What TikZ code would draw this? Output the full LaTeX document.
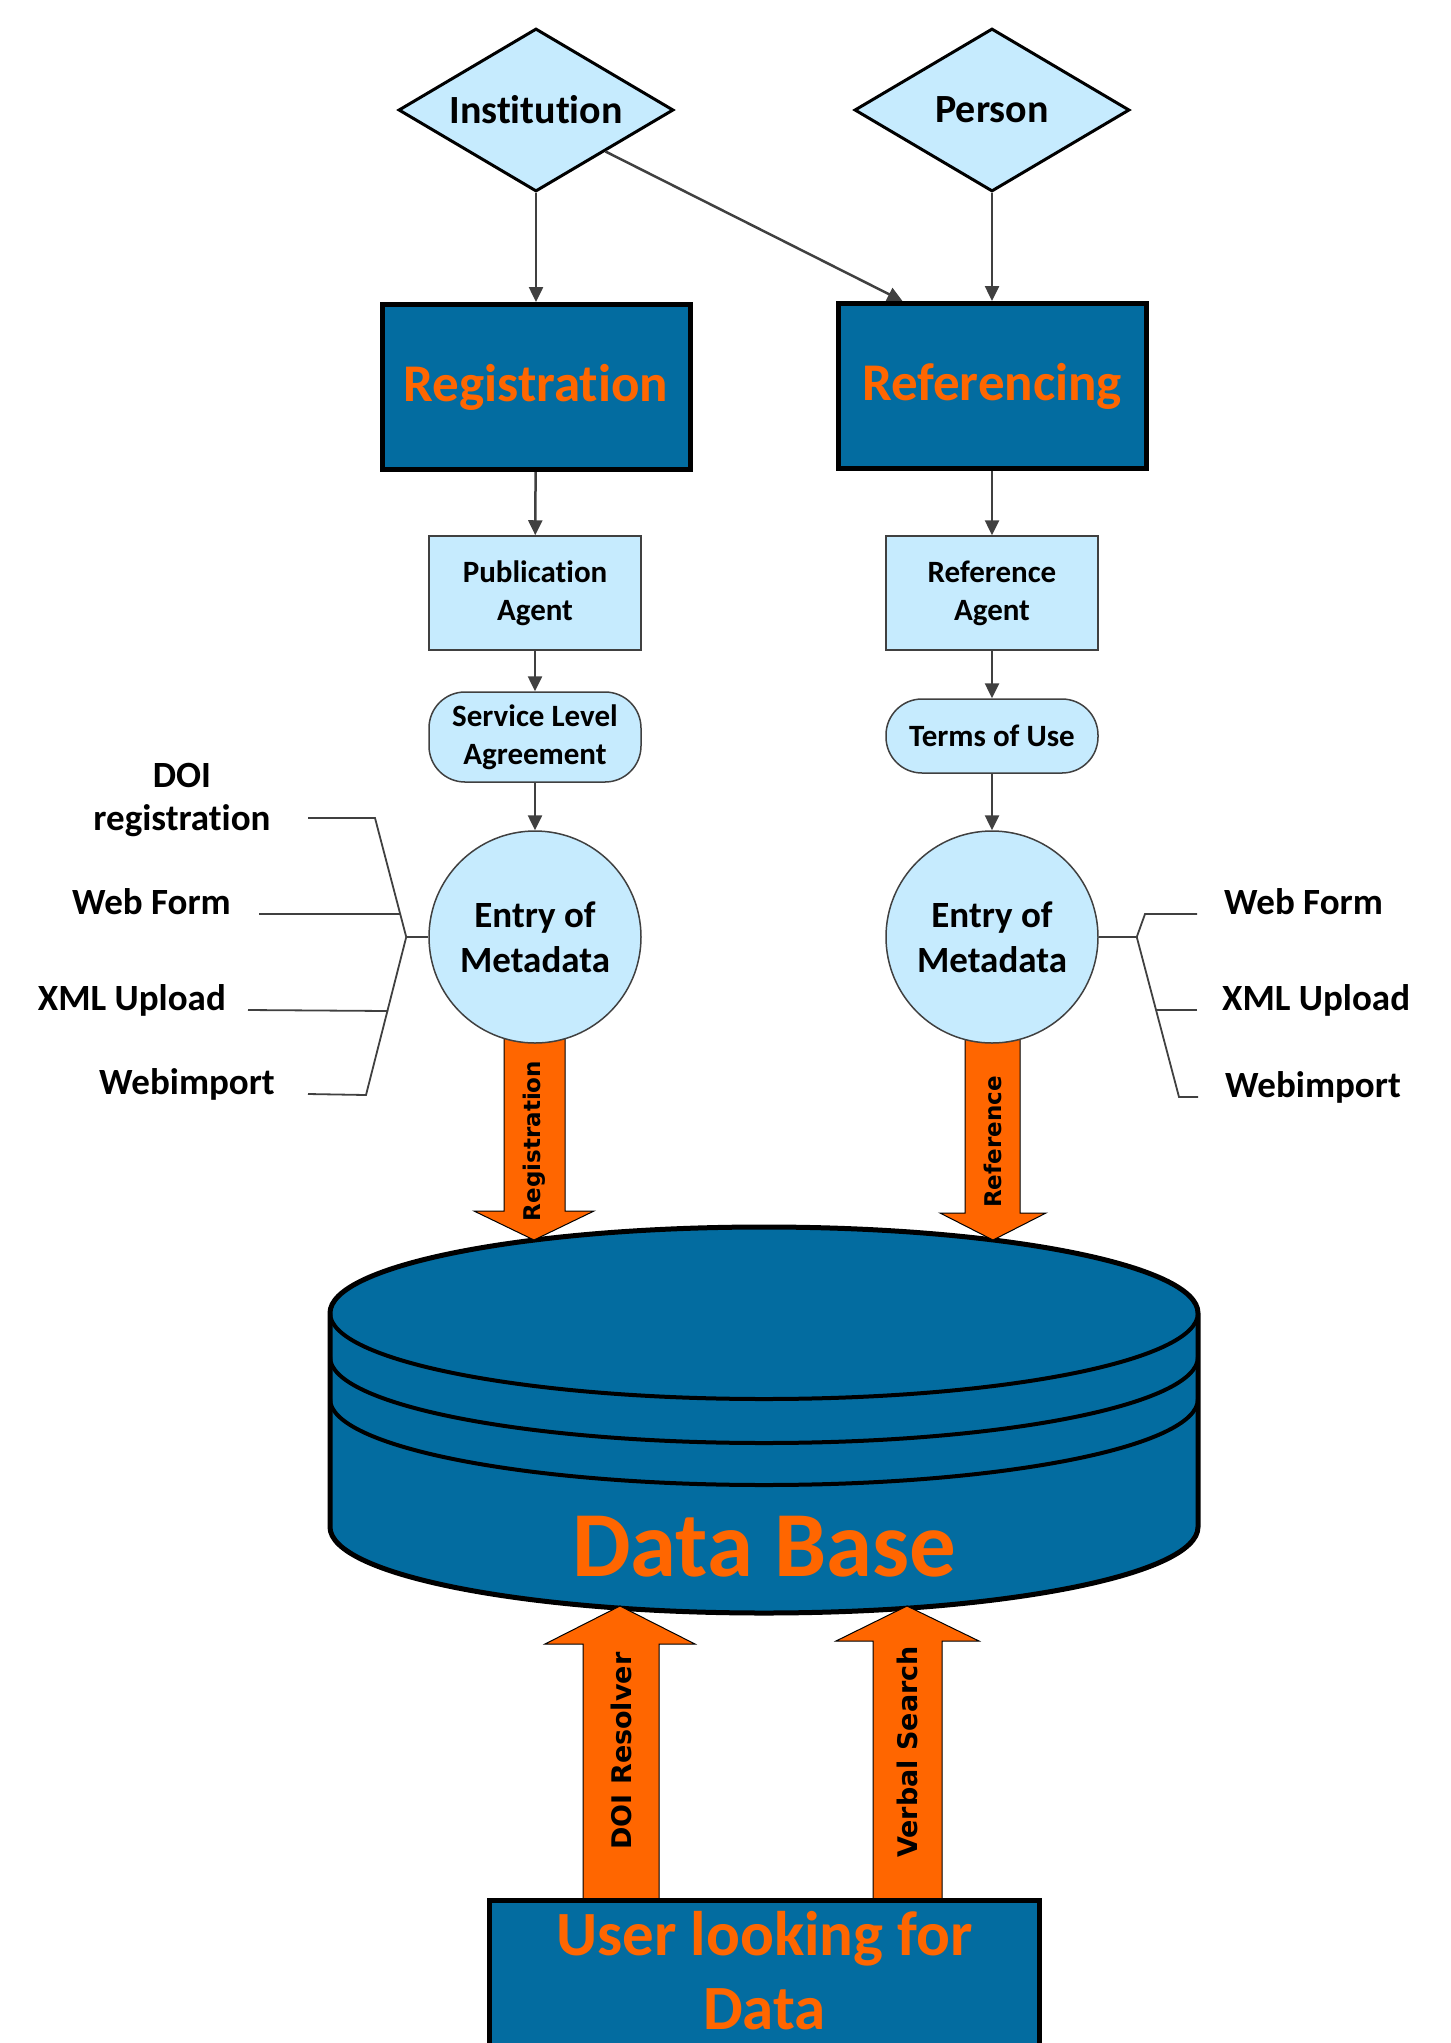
\documentclass[tikz,border=0pt]{standalone}
\usepackage{fontspec}
\setmainfont{Carlito}[Ligatures=NoCommon]
\newfontfamily\arrowfont{DejaVu Sans}
\usetikzlibrary{shapes.geometric,arrows.meta}
\definecolor{dbblue}{RGB}{3,108,160}
\definecolor{paleblue}{RGB}{198,235,254}
\definecolor{fatorange}{RGB}{255,102,0}
\definecolor{linegray}{RGB}{64,64,64}
\tikzset{
  actor/.style={diamond, aspect=1.67, draw=black, line width=3pt, fill=paleblue,
    minimum width=275, minimum height=163, inner sep=0pt, font=\fontsize{40}{48}\selectfont\bfseries},
  process/.style={draw=black, line width=5pt, fill=dbblue, text=fatorange,
    minimum width=308, minimum height=165, font=\fontsize{53}{60}\selectfont\bfseries},
  agent/.style={draw=linegray, line width=1.5pt, fill=paleblue, align=center,
    minimum width=212, minimum height=114, font=\fontsize{31}{38}\selectfont\bfseries},
  pill/.style={agent, rounded corners=36pt},
  entry/.style={circle, draw=linegray, line width=1.5pt, fill=paleblue, align=center,
    minimum size=212, inner sep=0pt, font=\fontsize{37}{45}\selectfont\bfseries},
  link/.style={draw=linegray, line width=2.5pt, -{Triangle[length=15pt,width=14pt]}},
  brace/.style={draw=linegray, line width=1.8pt},
  tag/.style={inner sep=0pt, align=center, font=\fontsize{37}{43}\selectfont\bfseries},
  fatarrow/.style={fill=fatorange, draw=black, line width=1pt},
  fattext/.style={inner sep=0pt, rotate=90, font=\arrowfont\bfseries\fontsize{#1}{#1}\selectfont}
}
\begin{document}
\begin{tikzpicture}[x=1pt, y=-1pt]
    \useasboundingbox (0,0) rectangle (1451,2043);

    % who enters
    \node[actor] (inst) at (536,110) {Institution};
    \node[actor] (pers) at (992,110) {Person};

    \node[process] (reg) at (536,387) {Registration};
    \node[process] (refg) at (992,386) {Referencing};

    \node[agent] (puba) at (535,593) {Publication\\Agent};
    \node[agent] (refa) at (992,593) {Reference\\Agent};

    \node[pill, minimum height=90] (sla) at (535,737) {Service Level\\Agreement};
    \node[pill, minimum height=74] (tou) at (992,736) {Terms of Use};

    \draw[link] (inst) -- (reg);
    \draw[link] (pers) -- (refg);
    \draw[link] (inst.south east) -- ([xshift=67pt]refg.north west);
    \draw[link] (reg) -- (puba);
    \draw[link] (refg) -- (refa);
    \draw[link] (puba) -- (sla);
    \draw[link] (refa) -- (tou);

    % data base
    \draw[line width=5pt, fill=dbblue] (330,1313) -- (330,1527)
        arc[start angle=180, end angle=0, x radius=434, y radius=86] -- (1198,1313)
        arc[start angle=0, end angle=-180, x radius=434, y radius=86] -- cycle;
    \foreach \yy in {1313,1357,1399}
        \draw[line width=4pt] (330,\yy) arc[start angle=180, end angle=0, x radius=434, y radius=86];
    \node[font=\fontsize{93}{100}\selectfont\bfseries, text=fatorange, anchor=base] (dbl) at (764,1576) {Data Base};

    % fat arrows
    \draw[fatarrow] (504,1030) -- (504,1211) -- (474,1211) -- (534,1240) -- (594,1211) -- (565,1211) -- (565,1030) -- cycle;
    \draw[fatarrow] (965,1030) -- (965,1213) -- (940,1213) -- (993,1240) -- (1046,1213) -- (1020,1213) -- (1020,1030) -- cycle;
    \draw[fatarrow] (583,1900) -- (583,1644) -- (545,1644) -- (620,1606) -- (695,1644) -- (659,1644) -- (659,1900) -- cycle;
    \draw[fatarrow] (873,1900) -- (873,1641) -- (836,1641) -- (907,1606) -- (979,1641) -- (942,1641) -- (942,1900) -- cycle;
    \node[fattext=23] (regl) at (534,1141) {Registration};
    \node[fattext=23] (refl) at (993,1142) {Reference};
    \node[fattext=27] (doil) at (621,1751) {DOI Resolver};
    \node[fattext=27] (verl) at (907,1752) {Verbal Search};

    \node[entry] (entl) at (535,937) {Entry of\\Metadata};
    \node[entry] (entr) at (992,937) {Entry of\\Metadata};
    \draw[link] (sla) -- (entl);
    \draw[link] (tou) -- (entr);

    % ways of entry, left
    \coordinate (lhub) at ([xshift=-22pt]entl.west);
    \node[tag] (doil) at (182,800) {DOI\\registration};
    \node[tag, anchor=base east] (wfl) at (231,914) {Web Form};
    \node[tag, anchor=base east] (xmll) at (226,1010) {XML Upload};
    \node[tag, anchor=base east] (wil) at (275,1094) {Webimport};
    \draw[brace] (entl.west) -- (lhub);
    \draw[brace] (308,818) -- (375,818) -- (lhub) -- (366,1095) -- ([xshift=33pt]wil.base east);
    \draw[brace] ([xshift=28pt]wfl.base east) -- (401,914);
    \draw[brace] ([xshift=22pt]xmll.base east) -- (388,1011);

    % ways of entry, right
    \coordinate (rhub) at ([xshift=38pt]entr.east);
    \node[tag, anchor=base west] (wfr) at (1224,914) {Web Form};
    \node[tag, anchor=base west] (xmlr) at (1222,1010) {XML Upload};
    \node[tag, anchor=base west] (wir) at (1225,1097) {Webimport};
    \draw[brace] (entr.east) -- (rhub);
    \draw[brace] ([xshift=-27pt]wfr.base west) -- (1145,914) -- (rhub) -- (1179,1097) -- ([xshift=-27pt]wir.base west);
    \draw[brace] ([xshift=-25pt]xmlr.base west) -- (1157,1010);

    % user
    \node[process, minimum width=550, minimum height=240, anchor=north] (user) at (764.5,1898) {};
    \node[font=\fontsize{63}{74}\selectfont\bfseries, text=fatorange, align=center] (usertxt) at (764.5,1971) {User looking for\\Data};
\end{tikzpicture}
\end{document}
